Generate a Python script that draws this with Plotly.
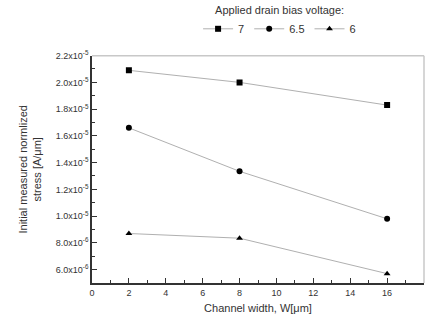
import plotly.graph_objects as go

widths = [2, 8, 16]
v7 = [2.09e-5, 2.0e-5, 1.83e-5]
v65 = [1.66e-5, 1.335e-5, 0.98e-5]
v6 = [0.87e-5, 0.835e-5, 0.57e-5]
series_names = ["7", "6.5", "6"]
symbols = ["square", "circle", "triangle-up"]

ytick_vals = [0.6e-5, 0.8e-5, 1.0e-5, 1.2e-5, 1.4e-5, 1.6e-5, 1.8e-5, 2.0e-5, 2.2e-5]
ytick_text = ["6.0x10<sup>-6</sup>", "8.0x10<sup>-6</sup>", "1.0x10<sup>-5</sup>",
              "1.2x10<sup>-5</sup>", "1.4x10<sup>-5</sup>", "1.6x10<sup>-5</sup>",
              "1.8x10<sup>-5</sup>", "2.0x10<sup>-5</sup>", "2.2x10<sup>-5</sup>"]

fig = go.Figure()
for name, vals, sym in zip(series_names, [v7, v65, v6], symbols):
    fig.add_trace(go.Scatter(
        x=widths, y=vals, name=name, mode="lines+markers",
        line=dict(color="#b0b0b0", width=1),
        marker=dict(symbol=sym, color="black", size=6),
    ))

fig.update_layout(
    width=429, height=326,
    margin=dict(l=92, r=5, t=36, b=43),
    paper_bgcolor="white", plot_bgcolor="white",
    font=dict(family="Liberation Sans, Arial", color="#333333", size=11),
    legend=dict(
        orientation="h", x=0.565, xanchor="center", y=1.0, yref="container", yanchor="top",
        title=dict(text="Applied drain bias voltage:", side="top center", font=dict(size=11)),
        font=dict(size=11), itemwidth=30, tracegroupgap=0,
        bgcolor="rgba(0,0,0,0)",
    ),
    xaxis=dict(
        range=[0, 18], tickvals=list(range(0, 19, 2)), showline=True, linecolor="#333333",
        linewidth=1.5, ticks="inside", ticklen=5, tickcolor="#333333", showgrid=False,
        zeroline=False, tickfont=dict(size=9),
        minor=dict(dtick=1, ticks="inside", ticklen=3, tickcolor="#333333", showgrid=False),
        title=dict(text="Channel width, W[μm]", font=dict(size=11), standoff=8),
    ),
    yaxis=dict(
        range=[0.5e-5, 2.2e-5], tickvals=ytick_vals, ticktext=ytick_text, showline=True,
        linecolor="#333333", linewidth=1.5, ticks="inside", ticklen=5, tickcolor="#333333",
        showgrid=False, zeroline=False, tickfont=dict(size=9),
        minor=dict(dtick=0.1e-5, ticks="inside", ticklen=3, tickcolor="#333333", showgrid=False),
        title=dict(text="Initial measured normlized<br>stress [A/μm]", font=dict(size=11), standoff=12),
    ),
)
fig.add_shape(type="line", xref="x domain", yref="y domain", x0=0, x1=1, y0=1, y1=1,
              line=dict(color="#c8c8c8", width=1.5))
fig.add_shape(type="line", xref="x domain", yref="y domain", x0=1, x1=1, y0=0, y1=1,
              line=dict(color="#c8c8c8", width=1.5))
fig.write_html("out.html")
